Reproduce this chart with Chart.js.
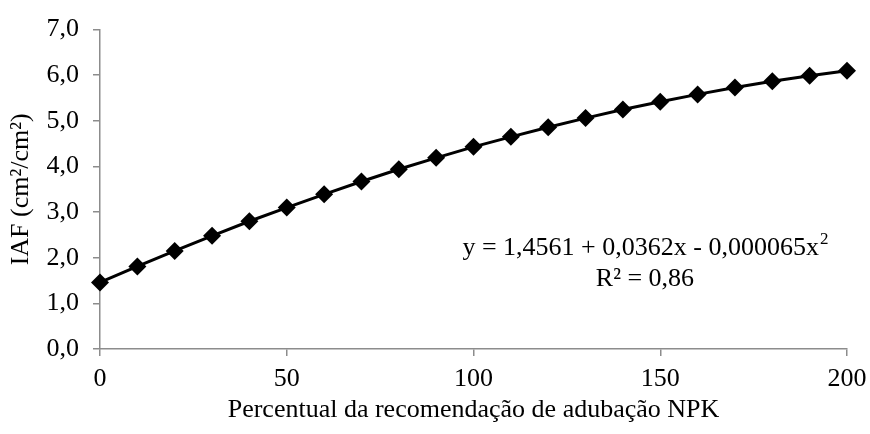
<!DOCTYPE html>
<html>
<head>
<meta charset="utf-8">
<script src="https://cdn.jsdelivr.net/npm/chart.js@4/dist/chart.umd.min.js"></script>
<style>
html,body{margin:0;padding:0;background:#fff;}
#wrap{width:870px;height:434px;position:relative;}
</style>
</head>
<body>
<div id="wrap"><canvas id="c" width="870" height="434"></canvas></div>
<script>
// Data
const xValues = [0,10,20,30,40,50,60,70,80,90,100,110,120,130,140,150,160,170,180,190,200];
const iafValues = [1.46,1.81,2.15,2.48,2.80,3.10,3.39,3.67,3.94,4.19,4.43,4.65,4.86,5.06,5.25,5.42,5.58,5.73,5.87,5.99,6.10];
const yTicks = [0,1,2,3,4,5,6,7];
const xTicks = [0,50,100,150,200];
const equationText = "y = 1,4561 + 0,0362x - 0,000065x";
const r2Text = "R² = 0,86";
const xTitle = "Percentual da recomendação de adubação NPK";
const yTitle = "IAF (cm²/cm²)";

const FONT = "'Liberation Serif', 'Times New Roman', serif";
const FS = 26;
const axisColor = '#8c8c8c';

const equationPlugin = {
  id: 'equation',
  afterDraw(chart) {
    const ctx = chart.ctx;
    const xs = chart.scales.x, ys = chart.scales.y;
    ctx.save();
    ctx.fillStyle = '#000';
    ctx.textBaseline = 'middle';
    ctx.font = FS + "px " + FONT;
    const w1 = ctx.measureText(equationText).width;
    ctx.font = "17px " + FONT;
    const w2 = ctx.measureText("2").width;
    const cx = xs.getPixelForValue(145.9);
    const cy = ys.getPixelForValue(2.2);
    const startX = cx - (w1 + w2) / 2;
    ctx.font = FS + "px " + FONT;
    ctx.textAlign = 'left';
    ctx.fillText(equationText, startX, cy);
    ctx.font = "17px " + FONT;
    ctx.fillText("2", startX + w1 + 1, cy - 9);
    ctx.font = FS + "px " + FONT;
    ctx.textAlign = 'center';
    ctx.fillText(r2Text, cx, ys.getPixelForValue(1.53));
    ctx.restore();
  }
};

new Chart(document.getElementById('c'), {
  type: 'line',
  data: {
    datasets: [{
      data: xValues.map((x, i) => ({x: x, y: iafValues[i]})),
      borderColor: '#000',
      backgroundColor: '#000',
      borderWidth: 3,
      pointStyle: 'rectRot',
      pointRadius: 9,
      pointHoverRadius: 9,
      pointBackgroundColor: '#000',
      pointBorderColor: '#000',
      pointBorderWidth: 0,
      tension: 0,
      clip: false
    }]
  },
  options: {
    responsive: false,
    animation: false,
    events: [],
    layout: { padding: { left: 0, right: 23, top: 27, bottom: 0 } },
    plugins: { legend: { display: false }, tooltip: { enabled: false } },
    scales: {
      x: {
        type: 'linear',
        min: 0, max: 200,
        afterBuildTicks: (s) => { s.ticks = xTicks.map(v => ({value: v})); },
        afterFit: (s) => { s.height = 85; s.paddingRight = 0; s.paddingLeft = 0; },
        border: { color: axisColor, width: 1.5 },
        grid: { drawOnChartArea: false, drawTicks: true, tickLength: 7, color: axisColor, lineWidth: 1.5 },
        ticks: { color: '#000', font: { family: FONT, size: FS }, padding: 8, maxRotation: 0 },
        title: { display: true, text: xTitle, color: '#000', font: { family: FONT, size: FS }, padding: { top: 4, bottom: 8 } }
      },
      y: {
        min: 0, max: 7,
        afterBuildTicks: (s) => { s.ticks = yTicks.map(v => ({value: v})); },
        afterFit: (s) => { s.width = 100; },
        border: { color: axisColor, width: 1.5 },
        grid: { drawOnChartArea: false, drawTicks: true, tickLength: 7, color: axisColor, lineWidth: 1.5 },
        ticks: { color: '#000', font: { family: FONT, size: FS }, padding: 14,
          callback: (v) => v.toFixed(1).replace('.', ',') },
        title: { display: true, text: yTitle, color: '#000', font: { family: FONT, size: FS }, padding: { top: 6, bottom: 0 } }
      }
    }
  },
  plugins: [equationPlugin]
});
</script>
</body>
</html>
